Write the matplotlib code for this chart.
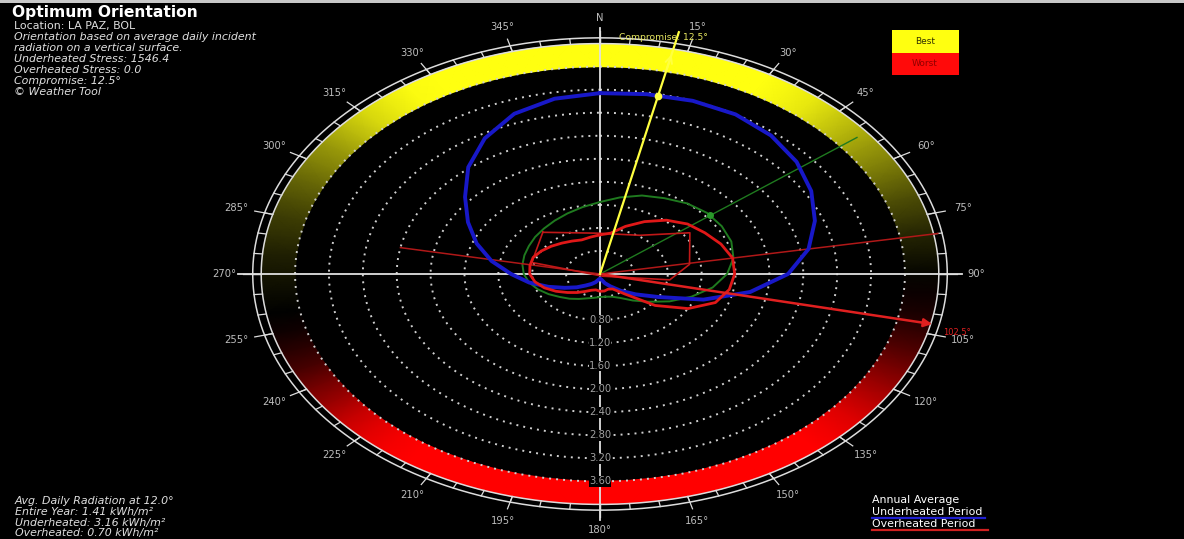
import numpy as np
import matplotlib
matplotlib.use("Agg")
import matplotlib.pyplot as plt
from matplotlib.colors import LinearSegmentedColormap
from matplotlib.patches import Rectangle

# ---------------- data ----------------
curve_angles = [0, 10, 20, 30, 40, 50, 60, 70, 80, 90, 100, 110, 120, 130, 140, 150, 160, 170,
                180, 190, 200, 210, 220, 230, 240, 250, 260, 270, 280, 290, 300, 310, 320, 330, 340, 350]
annual_avg = [1.25, 1.35, 1.45, 1.52, 1.60, 1.65, 1.66, 1.65, 1.60, 1.50, 1.35, 1.15, 0.95, 0.75,
              0.60, 0.48, 0.42, 0.40, 0.40, 0.42, 0.45, 0.50, 0.56, 0.62, 0.70, 0.78, 0.85, 0.90,
              0.93, 0.95, 0.97, 1.00, 1.03, 1.07, 1.12, 1.18]
underheated = [3.14, 3.17, 3.20, 3.20, 3.14, 3.03, 2.88, 2.70, 2.50, 2.22, 1.80, 1.30, 0.80, 0.55,
               0.38, 0.25, 0.17, 0.10, 0.08, 0.10, 0.15, 0.20, 0.26, 0.36, 0.48, 0.65, 0.85, 1.05,
               1.30, 1.55, 1.80, 2.08, 2.42, 2.72, 2.96, 3.09]
overheated = [0.68, 0.72, 0.88, 1.05, 1.22, 1.35, 1.43, 1.52, 1.59, 1.59, 1.55, 1.45, 1.20, 0.85,
              0.45, 0.30, 0.28, 0.30, 0.30, 0.28, 0.30, 0.35, 0.42, 0.50, 0.60, 0.70, 0.78, 0.83,
              0.84, 0.84, 0.80, 0.75, 0.70, 0.66, 0.63, 0.65]
poly_angles = [317, 357, 35, 56, 81, 97, 140, 284]
poly_radii = [0.99, 0.71, 0.82, 1.28, 1.07, 0.83, 0.05, 0.83]

band_angles = list(range(0, 365, 5))
band_values = [1.00, 1.00, 1.00, 1.00, 1.00, 1.00, 1.00, 0.98, 0.95, 0.90, 0.85, 0.80, 0.75, 0.70,
               0.65, 0.61, 0.57, 0.54, 0.51, 0.48, 0.45, 0.40, 0.34, 0.27, 0.20, 0.13, 0.07, 0.03,
               0.00, 0.00, 0.00, 0.00, 0.00, 0.00, 0.00, 0.00, 0.00, 0.00, 0.00, 0.00, 0.00, 0.00,
               0.00, 0.00, 0.02, 0.06, 0.12, 0.20, 0.28, 0.36, 0.42, 0.47, 0.50, 0.52, 0.54, 0.56,
               0.59, 0.62, 0.66, 0.70, 0.75, 0.80, 0.86, 0.92, 0.96, 0.99, 1.00, 1.00, 1.00, 1.00,
               1.00, 1.00, 1.00]

ring_values = [0.4, 0.8, 1.2, 1.6, 2.0, 2.4, 2.8, 3.2]
ring_label_values = [0.8, 1.2, 1.6, 2.0, 2.4, 2.8, 3.2, 3.6]
ring_labels = ["0.80", "1.20", "1.60", "2.00", "2.40", "2.80", "3.20", "3.60"]
tick_angles = list(range(0, 360, 15))
tick_labels = ["N"] + [f"{a}°" for a in range(15, 360, 15)]

compromise_angle = 12.5
compromise_value = 3.16
worst_angle = 102.5
green_angle = 52.0
green_value = 1.65
red_line_angles = [80.0, 281.0]
red_line_lengths = [4.05, 2.4]

info_lines = ["Location: LA PAZ, BOL",
              "Orientation based on average daily incident",
              "radiation on a vertical surface.",
              "Underheated Stress: 1546.4",
              "Overheated Stress: 0.0",
              "Compromise: 12.5°",
              "© Weather Tool"]
avg_lines = ["Avg. Daily Radiation at 12.0°",
             "Entire Year: 1.41 kWh/m²",
             "Underheated: 3.16 kWh/m²",
             "Overheated: 0.70 kWh/m²"]

# ---------------- figure ----------------
plt.rcParams['font.family'] = ['DejaVu Sans']
W, H = 1184, 539
fig = plt.figure(figsize=(W / 100, H / 100), dpi=100, facecolor='black')

RMAX = 4.6
cx, cy = 600, 274           # centre in pixels (from top)
sx, sy = 84.7, 57.6         # pixels per unit
ax = fig.add_axes([(cx - RMAX * sx) / W, (H - cy - RMAX * sy) / H,
                   2 * RMAX * sx / W, 2 * RMAX * sy / H], projection='polar')
ax.set_theta_zero_location('N')
ax.set_theta_direction(-1)
ax.set_aspect('auto')
ax.set_ylim(0, RMAX)
ax.axis('off')

full = np.linspace(0, 2 * np.pi, 721)

# colour band
cmap = LinearSegmentedColormap.from_list('bw', [(0, '#ff0000'), (0.5, '#000000'), (1, '#ffff10')])
T, R = np.meshgrid(np.deg2rad(band_angles), [3.6, 4.0])
C = np.vstack([band_values, band_values])
ax.pcolormesh(T, R, C, shading='gouraud', cmap=cmap, vmin=0, vmax=1, zorder=1)

# dotted rings
for r in ring_values + [3.6]:
    ax.plot(full, np.full_like(full, r), color='#d0d0d0', lw=1.4,
            linestyle=(0, (1.0, 2.6)), zorder=2)

# outer rings
for r in (4.0, 4.1):
    ax.plot(full, np.full_like(full, r), color='#dcdcdc', lw=1.1, zorder=3)
for a in range(0, 360, 5):
    t = np.deg2rad(a)
    ax.plot([t, t], [4.0, 4.1], color='#dcdcdc', lw=0.9, zorder=3)
for a, lab in zip(tick_angles, tick_labels):
    t = np.deg2rad(a)
    ax.plot([t, t], [4.0, 4.22], color='#dcdcdc', lw=0.9, zorder=3)
    ax.text(t, 4.44, lab, color='#bdbdbd', fontsize=7.2, ha='center', va='center')

# cross hair
for a in (0, 90, 180, 270):
    t = np.deg2rad(a)
    ax.plot([t, t], [0, 4.27], color='#e0e0e0', lw=1.3, zorder=3)

# radial labels
for r, lab in zip(ring_label_values, ring_labels):
    ax.text(np.pi, r, lab, color='#a0a0a0', fontsize=7.2, ha='center', va='center', zorder=4,
            bbox=dict(facecolor='black', edgecolor='none', pad=0.2))

def closed(vals):
    th = np.deg2rad(curve_angles + [360])
    return th, list(vals) + [vals[0]]

# annual average (green)
th, rr = closed(annual_avg)
ax.plot(th, rr, color='#1f7a1f', lw=1.4, zorder=5)
tg = np.deg2rad(green_angle)
ax.plot([tg, tg], [0, 3.85], color='#1f7a1f', lw=1.0, zorder=5)
ax.plot([tg], [green_value], 'o', color='#2a9a2a', ms=4, zorder=6)

# red thin lines
for a, L in zip(red_line_angles, red_line_lengths):
    t = np.deg2rad(a)
    ax.plot([t, t], [0, L], color='#b01818', lw=1.1, zorder=5)

# red polygon
pa = np.deg2rad(poly_angles + [poly_angles[0]])
ax.plot(pa, poly_radii + [poly_radii[0]], color='#c01818', lw=1.2, zorder=5)

# underheated (blue)
th, rr = closed(underheated)
ax.plot(th, rr, color='#1818c8', lw=2.8, zorder=6, solid_joinstyle='round')

# overheated (red)
th, rr = closed(overheated)
ax.plot(th, rr, color='#e01818', lw=2.0, zorder=7, solid_joinstyle='round')

# compromise line
tc = np.deg2rad(compromise_angle)
ax.plot([tc, tc], [0, 4.3], color='#ffff40', lw=1.6, zorder=8)
ax.annotate('', xy=(tc, 3.95), xytext=(tc, 3.6),
            arrowprops=dict(arrowstyle='->', color='#ffff40', lw=1.4, mutation_scale=12), zorder=8)
ax.plot([tc], [compromise_value], 'o', color='#ffff40', ms=4.5, zorder=9)
ax.text(np.deg2rad(10.3), 4.18, "Compromise: 12.5°", color='#e8e860', fontsize=6.6,
        ha='center', va='center', zorder=9)

# worst line
tw = np.deg2rad(worst_angle)
ax.annotate('', xy=(tw, 4.05), xytext=(tw, 0),
            arrowprops=dict(arrowstyle='-|>', color='#e02020', lw=1.8, mutation_scale=12), zorder=8)
ax.text(np.deg2rad(103.6), 4.34, f"{worst_angle}°", color='#e02020', fontsize=6, ha='center',
        va='center', zorder=9)

# ---------------- texts ----------------
def fy(py):
    return 1 - py / H

fig.text(12 / W, fy(13), "Optimum Orientation", color='white', fontsize=11.2, fontweight='bold',
         va='center', ha='left')
for i, line in enumerate(info_lines):
    fig.text(14 / W, fy(26 + 11 * i), line, color='#e0e0e0', fontsize=7.9, va='center',
             ha='left', style='normal' if i == 0 else 'italic')
for i, line in enumerate(avg_lines):
    fig.text(15 / W, fy(501 + 10.8 * i), line, color='#e0e0e0', fontsize=7.9, va='center',
             ha='left', style='italic')

# bottom-right legend
leg = [("Annual Average", None), ("Underheated Period", '#2020d0'), ("Overheated Period", '#d02020')]
for i, (lab, col) in enumerate(leg):
    y = 500 + 12 * i
    fig.text(872 / W, fy(y), lab, color='white', fontsize=7.9, va='center', ha='left')
    if col is not None:
        fig.add_artist(plt.Line2D([872 / W, (872 + 110 + 3 * i) / W], [fy(y + 6), fy(y + 6)],
                                  color=col, lw=1.6, transform=fig.transFigure))

# top-right legend
fig.add_artist(Rectangle((892 / W, fy(53)), 67 / W, 23 / H, transform=fig.transFigure,
                         facecolor='#ffff10', edgecolor='none'))
fig.add_artist(Rectangle((892 / W, fy(75)), 67 / W, 22 / H, transform=fig.transFigure,
                         facecolor='#ff0a0a', edgecolor='none'))
fig.text(925 / W, fy(41), "Best", color='#303000', fontsize=6.5, ha='center', va='center')
fig.text(925 / W, fy(64), "Worst", color='#900000', fontsize=6.5, ha='center', va='center')

# top border strip
fig.add_artist(Rectangle((0, fy(3)), 1, 3 / H, transform=fig.transFigure,
                         facecolor='#c8c8c8', edgecolor='none'))

fig.savefig('out.png', dpi=100, facecolor='black')
